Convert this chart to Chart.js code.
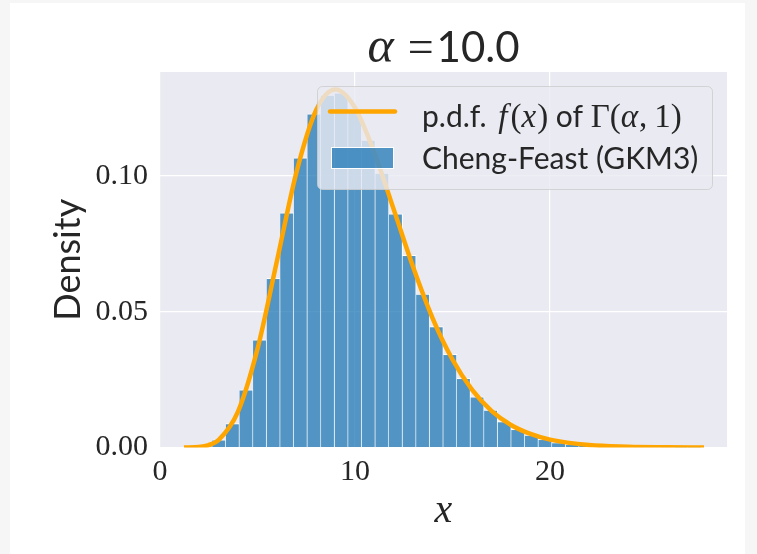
<!DOCTYPE html>
<html>
<head>
<meta charset="utf-8">
<script src="https://cdn.jsdelivr.net/npm/chart.js@4.4.0/dist/chart.umd.min.js"></script>
<style>
html,body{margin:0;padding:0;background:#fff}
#wrap{width:757px;height:554px}
</style>
</head>
<body>
<div id="wrap"><canvas id="chart" width="757" height="554"></canvas></div>
<script>
// histogram bins
const binStart = 1.29
const binWidth = 0.697
const density = [0.00005, 0.0004, 0.0028, 0.0088, 0.0212, 0.0396, 0.0623, 0.0864, 0.1067, 0.1229,
    0.1298, 0.1306, 0.1240, 0.1132, 0.1010, 0.0860, 0.0708, 0.0565, 0.0445, 0.0343,
    0.0255, 0.0187, 0.0138, 0.0095, 0.0067, 0.0046, 0.0030, 0.0018, 0.0012, 0.0008,
    0.0005, 0.0003, 0.0002, 0.0001, 0.0001, 0.00005, 0.00003, 0.00003]

// p.d.f. curve points
const pdfX = [1.23, 2, 2.5, 3, 4, 5, 6, 7, 8, 9, 10, 11, 12, 13, 14, 15, 16, 17, 18, 19, 20, 22, 24, 26, 27.9]
const pdfY = [0.0000, 0.0002, 0.0009, 0.0027, 0.0132, 0.0363, 0.0688, 0.1014, 0.1241, 0.1318, 0.1251, 0.1084,
    0.0874, 0.0661, 0.0473, 0.0324, 0.0213, 0.0135, 0.0083, 0.0050, 0.0029, 0.0009, 0.0003, 0.0001, 0.0000]

const xTicks = [0, 10, 20]
const yTicks = [0, 0.05, 0.10]
const seriesNames = ['p.d.f. f(x) of Γ(α, 1)', 'Cheng-Feast (GKM3)']

const barColor = 'rgba(31,119,180,0.75)'
const lineColor = '#FFA500'
const textColor = '#262626'

var binCenters = density.map(function(d, i){ return binStart + binWidth * (i + 0.5) })

function drawParts(ctx, parts, x, y){
    for (var i = 0; i < parts.length; i++){
        ctx.font = parts[i][1]
        ctx.fillText(parts[i][0], x, y)
        x += ctx.measureText(parts[i][0]).width + (parts[i][2] || 0)
    }
    return x
}
function partsWidth(ctx, parts){
    var w = 0
    for (var i = 0; i < parts.length; i++){
        ctx.font = parts[i][1]
        w += ctx.measureText(parts[i][0]).width + (parts[i][2] || 0)
    }
    return w
}

const sans = "Lato"
const serif = "'Liberation Serif'"

const backgroundPlugin = {
    id: 'bg',
    beforeDraw(chart){
        const ctx = chart.ctx, a = chart.chartArea
        ctx.save()
        ctx.fillStyle = '#f6f6f7'
        ctx.fillRect(0, 0, chart.width, chart.height)
        ctx.fillStyle = '#ffffff'
        ctx.fillRect(10, 3, chart.width - 22, chart.height - 3)
        ctx.fillStyle = '#EAEAF2'
        ctx.fillRect(a.left, a.top, a.right - a.left, a.bottom - a.top)
        ctx.restore()
    }
}

const legendPlugin = {
    id: 'boxLegend',
    afterDatasetsDraw(chart){
        const ctx = chart.ctx
        ctx.save()
        ctx.beginPath()
        ctx.roundRect(317.5, 86.5, 395, 103, 5)
        ctx.fillStyle = 'rgba(234,234,242,0.8)'
        ctx.fill()
        ctx.strokeStyle = 'rgba(204,204,204,0.8)'
        ctx.lineWidth = 1
        ctx.stroke()

        // line handle
        ctx.beginPath()
        ctx.moveTo(330, 111.5)
        ctx.lineTo(395, 111.5)
        ctx.strokeStyle = lineColor
        ctx.lineWidth = 4.5
        ctx.lineCap = 'round'
        ctx.stroke()

        // bar handle
        ctx.fillStyle = barColor
        ctx.fillRect(331, 147, 63, 22)
        ctx.strokeStyle = '#ffffff'
        ctx.lineWidth = 1
        ctx.strokeRect(331.5, 147.5, 62, 21)

        ctx.fillStyle = textColor
        ctx.textBaseline = 'alphabetic'
        ctx.textAlign = 'left'
        const fs = 30
        const ms = 33
        drawParts(ctx, [
            ['p.d.f. ', fs + 'px ' + sans, 4],
            ['f', 'italic ' + ms + 'px ' + serif, 3],
            ['(', ms + 'px ' + serif],
            ['x', 'italic ' + ms + 'px ' + serif, 1],
            [')', ms + 'px ' + serif],
            [' of ', fs + 'px ' + sans],
            ['Γ(', ms + 'px ' + serif],
            ['α', 'italic ' + ms + 'px ' + serif, 1],
            [',', ms + 'px ' + serif, 7],
            ['1)', ms + 'px ' + serif]
        ], 422, 126.5)
        ctx.font = fs + 'px ' + sans
        ctx.fillText(seriesNames[1], 422, 168.5)
        ctx.restore()
    },
    afterDraw(chart){
        const ctx = chart.ctx, a = chart.chartArea
        ctx.save()
        ctx.fillStyle = textColor
        ctx.textBaseline = 'alphabetic'
        const parts = [
            ['α', 'italic 50px ' + serif, 14],
            ['=', '46px ' + serif, 3],
            ['10.0', '42px ' + sans]
        ]
        const w = partsWidth(ctx, parts)
        drawParts(ctx, parts, (a.left + a.right) / 2 - w / 2, 62)
        ctx.restore()
    }
}

var ctx = document.getElementById('chart').getContext('2d')
var chart = new Chart(ctx, {
    data: {
        datasets: [
            {
                type: 'line',
                label: seriesNames[0],
                data: pdfX.map(function(x, i){ return {x: x, y: pdfY[i]} }),
                borderColor: lineColor,
                borderWidth: 4.5,
                pointRadius: 0,
                cubicInterpolationMode: 'monotone',
                fill: false,
                order: 0
            },
            {
                type: 'bar',
                label: seriesNames[1],
                data: binCenters.map(function(x, i){ return {x: x, y: density[i]} }),
                backgroundColor: barColor,
                borderColor: '#ffffff',
                borderWidth: {top: 1, right: 1, left: 0, bottom: 0},
                borderSkipped: 'bottom',
                barPercentage: 1,
                categoryPercentage: 1,
                order: 1
            }
        ]
    },
    options: {
        responsive: false,
        animation: false,
        layout: {padding: {top: 72, right: 30, left: 0, bottom: 0}},
        plugins: {
            legend: {display: false},
            tooltip: {enabled: false}
        },
        scales: {
            x: {
                type: 'linear',
                offset: false,
                min: 0,
                max: 29.08,
                afterFit: function(s){ s.height = 106.5 },
                afterBuildTicks: function(s){ s.ticks = xTicks.map(function(v){ return {value: v} }) },
                grid: {color: '#ffffff', lineWidth: 1.2, drawTicks: false, offset: false},
                border: {display: false},
                ticks: {
                    padding: 7,
                    color: textColor,
                    font: {family: 'Liberation Serif', size: 30},
                    callback: function(v){ return String(v) }
                },
                title: {
                    display: true,
                    text: 'x',
                    color: textColor,
                    font: {family: 'Liberation Serif', size: 40, style: 'italic'},
                    padding: {bottom: 19, top: 0}
                }
            },
            y: {
                min: 0,
                max: 0.13826,
                afterFit: function(s){ s.width = 160 },
                afterBuildTicks: function(s){ s.ticks = yTicks.map(function(v){ return {value: v} }) },
                grid: {color: '#ffffff', lineWidth: 1.2, drawTicks: false},
                border: {display: false},
                ticks: {
                    padding: 12,
                    color: textColor,
                    font: {family: 'Liberation Serif', size: 30},
                    callback: function(v){ return v.toFixed(2) }
                },
                title: {
                    display: true,
                    text: 'Density',
                    color: textColor,
                    font: {family: 'Lato', size: 36},
                    padding: {top: 47, bottom: 0}
                }
            }
        }
    },
    plugins: [backgroundPlugin, legendPlugin]
})
</script>
</body>
</html>
